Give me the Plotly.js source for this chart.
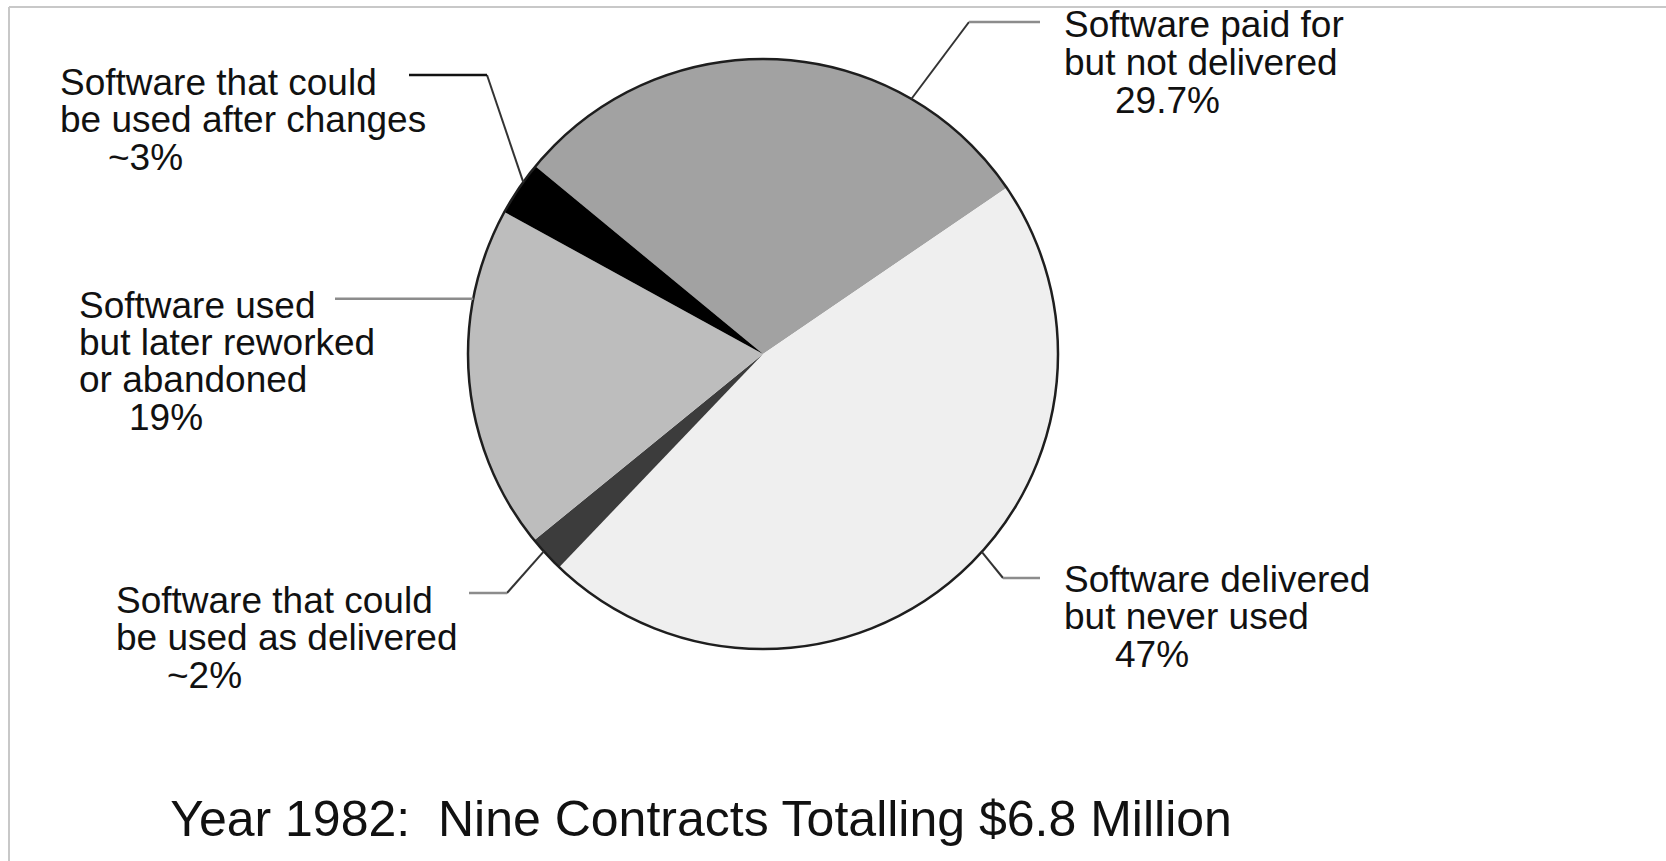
<!DOCTYPE html>
<html>
<head>
<meta charset="utf-8">
<script src="https://cdn.plot.ly/plotly-3.0.1.min.js"></script>
<style>html,body{margin:0;padding:0;background:#fff;}#chart{width:1666px;height:861px;}</style>
</head>
<body>
<div id="chart"></div>
<script>
// ---- data ----
const categories = [
  'Software paid for but not delivered',
  'Software delivered but never used',
  'Software that could be used as delivered',
  'Software used but later reworked or abandoned',
  'Software that could be used after changes'
];
const values = [29.7, 47, 2, 19, 3];
const valueLabels = ['29.7%', '47%', '~2%', '19%', '~3%'];
const labelLines = [
  ['Software paid for', 'but not delivered'],
  ['Software delivered', 'but never used'],
  ['Software that could', 'be used as delivered'],
  ['Software used', 'but later reworked', 'or abandoned'],
  ['Software that could', 'be used after changes']
];
const titleText = 'Year 1982:  Nine Contracts Totalling $6.8 Million';

// ---- style / layout ----
const W = 1666, H = 861;
const colors = ['#a2a2a2', '#efefef', '#3c3c3c', '#bdbdbd', '#000000'];
const cx = 763, cy = 354, R = 295;
const rotation = -50.5;
const fontFam = '"Liberation Sans", Arial, sans-serif';
const labelSize = 37, lineStep = 37.5;
// label block placement (px): left x, first line y, percent-line x
const labelPos = [
  {x: 1062, y: 25,  px: 1113},
  {x: 1062, y: 579, px: 1113},
  {x: 114,  y: 600, px: 165},
  {x: 77,   y: 305, px: 127},
  {x: 58,   y: 82,  px: 106}
];
// leader lines: position inside slice (0..1), elbow point, outer end (px)
const leaders = [
  {frac: 0.76,  elbow: [969, 22],  outer: [1040, 22],  hcol: '#8c8c8c'},
  {frac: 0.455, elbow: [1003, 578], outer: [1040, 578], hcol: '#8c8c8c'},
  {frac: 0.6,   elbow: [507, 593], outer: [469, 593],  hcol: '#8c8c8c'},
  {frac: 0.735, elbow: null,       outerX: 335,        hcol: '#8c8c8c'},
  {frac: 0.64,  elbow: [487, 75],  outer: [409, 75],   hcol: '#111111'}
];

const px2x = p => p / W;
const px2y = p => 1 - p / H;

const total = values.reduce((a, b) => a + b, 0);
const shapes = [];
const annotations = [];

// frame lines
shapes.push({type: 'line', xref: 'paper', yref: 'paper', x0: px2x(9), x1: 1, y0: px2y(7), y1: px2y(7), line: {color: '#c8c8c8', width: 2}});
shapes.push({type: 'line', xref: 'paper', yref: 'paper', x0: px2x(9), x1: px2x(9), y0: px2y(7), y1: 0, line: {color: '#c8c8c8', width: 2}});

let cum = 0;
values.forEach((v, i) => {
  const a0 = rotation + cum / total * 360;
  const a1 = rotation + (cum + v) / total * 360;
  cum += v;
  const L = leaders[i];
  const ang = (a0 + (a1 - a0) * L.frac) * Math.PI / 180;
  const ex = cx + R * Math.sin(ang), ey = cy - R * Math.cos(ang);
  if (L.elbow) {
    shapes.push({type: 'line', xref: 'paper', yref: 'paper', x0: px2x(ex), y0: px2y(ey), x1: px2x(L.elbow[0]), y1: px2y(L.elbow[1]), line: {color: '#333', width: 2}});
    shapes.push({type: 'line', xref: 'paper', yref: 'paper', x0: px2x(L.elbow[0]), y0: px2y(L.elbow[1]), x1: px2x(L.outer[0]), y1: px2y(L.outer[1]), line: {color: L.hcol, width: 2.5}});
  } else {
    shapes.push({type: 'line', xref: 'paper', yref: 'paper', x0: px2x(ex), y0: px2y(ey), x1: px2x(L.outerX), y1: px2y(ey), line: {color: L.hcol, width: 2.5}});
  }
  const P = labelPos[i];
  labelLines[i].forEach((t, k) => {
    annotations.push({text: t, xref: 'paper', yref: 'paper', x: px2x(P.x), y: px2y(P.y + k * lineStep), xanchor: 'left', yanchor: 'middle', showarrow: false, font: {family: fontFam, size: labelSize, color: '#111'}});
  });
  annotations.push({text: valueLabels[i], xref: 'paper', yref: 'paper', x: px2x(P.px), y: px2y(P.y + labelLines[i].length * lineStep), xanchor: 'left', yanchor: 'middle', showarrow: false, font: {family: fontFam, size: labelSize, color: '#111'}});
});

const domain = {x: [px2x(cx - R), px2x(cx + R)], y: [px2y(cy + R), px2y(cy - R)]};

const traces = [
  {
    type: 'pie', labels: categories, values: values, sort: false, direction: 'clockwise', rotation: rotation,
    marker: {colors: colors, line: {width: 0}}, textinfo: 'none', hoverinfo: 'label+value', domain: domain, showlegend: false
  },
  {
    type: 'pie', labels: ['outline'], values: [1], sort: false, marker: {colors: ['rgba(0,0,0,0)'], line: {color: '#1e1e1e', width: 2.5}},
    textinfo: 'none', hoverinfo: 'skip', domain: domain, showlegend: false
  }
];

const layout = {
  width: W, height: H, margin: {l: 0, r: 0, t: 0, b: 0},
  paper_bgcolor: '#ffffff', showlegend: false,
  title: {text: titleText, x: px2x(701), xanchor: 'center', y: px2y(818), yanchor: 'middle', font: {family: fontFam, size: 50, color: '#111'}},
  shapes: shapes, annotations: annotations
};

Plotly.newPlot('chart', traces, layout, {displayModeBar: false, staticPlot: true});
</script>
</body>
</html>
